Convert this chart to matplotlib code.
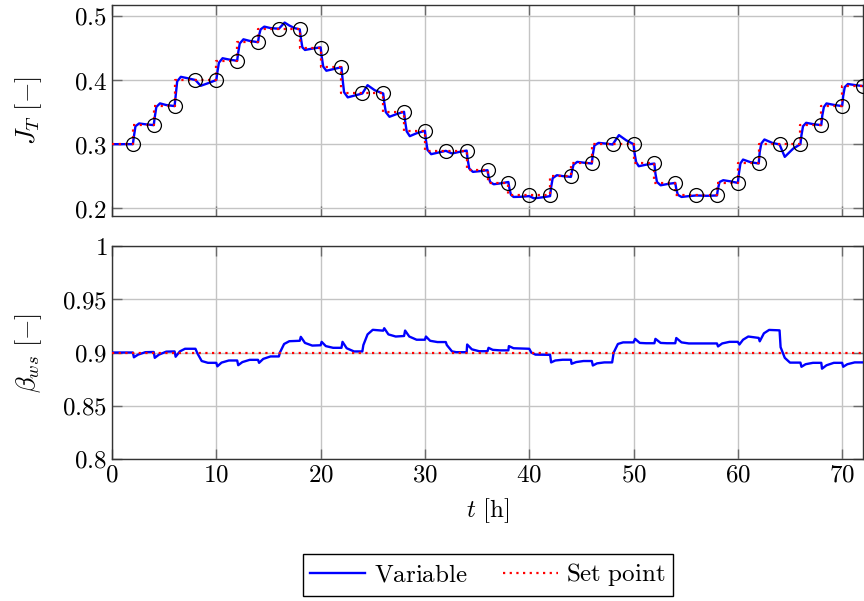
import numpy as np
import matplotlib
matplotlib.use("Agg")
import matplotlib.pyplot as plt
from matplotlib.ticker import FuncFormatter

plt.rcParams["mathtext.fontset"] = "cm"
plt.rcParams["font.family"] = "serif"

# set point of J_T, held constant over each 2 h interval
t_sp = np.arange(0, 74, 2)
jt_sp = [0.30, 0.33, 0.36, 0.40, 0.40, 0.43, 0.46, 0.48, 0.48, 0.45, 0.42, 0.38,
         0.38, 0.35, 0.32, 0.29, 0.29, 0.26, 0.24, 0.22, 0.22, 0.25, 0.27, 0.30,
         0.30, 0.27, 0.24, 0.22, 0.22, 0.24, 0.27, 0.30, 0.30, 0.33, 0.36, 0.39]

# measured J_T
t_jt = [0, 1.0,
        2, 2.1, 2.25, 2.6, 3.2,
        4, 4.1, 4.25, 4.6, 5.2,
        6, 6.1, 6.25, 6.6, 7.2,
        8, 8.5, 9.2,
        10, 10.1, 10.25, 10.6, 11.2,
        12, 12.1, 12.25, 12.6, 13.2,
        14, 14.1, 14.25, 14.6, 15.2,
        16, 16.55, 17.0, 17.5,
        18, 18.1, 18.25, 18.5, 19.2,
        20, 20.1, 20.25, 20.55, 21.2,
        22, 22.1, 22.25, 22.6, 23.3,
        24, 24.5, 25.2,
        26, 26.1, 26.25, 26.6, 27.3,
        28, 28.1, 28.25, 28.55, 29.2,
        30, 30.1, 30.25, 30.6, 31.3,
        32, 32.6, 33.3,
        34, 34.1, 34.25, 34.6, 35.3,
        36, 36.1, 36.25, 36.6, 37.3,
        38, 38.1, 38.25, 38.5, 39.2,
        40, 40.45, 41.2,
        42, 42.1, 42.25, 42.65, 43.3,
        44, 44.1, 44.25, 44.6, 45.3,
        46, 46.1, 46.25, 46.65, 47.3,
        48, 48.6, 49.3,
        50, 50.1, 50.25, 50.5, 51.2,
        52, 52.1, 52.25, 52.6, 53.3,
        54, 54.1, 54.25, 54.6, 55.3,
        56, 57.0,
        58, 58.1, 58.25, 58.6, 59.3,
        60, 60.1, 60.25, 60.5, 61.2,
        62, 62.1, 62.25, 62.55, 63.3,
        64, 64.5, 65.3,
        66, 66.1, 66.25, 66.55, 67.3,
        68, 68.1, 68.25, 68.5, 69.3,
        70, 70.1, 70.25, 70.55, 71.3,
        72]
jt = [0.300, 0.300,
      0.300, 0.312, 0.328, 0.3323, 0.331,
      0.3297, 0.342, 0.358, 0.3636, 0.361,
      0.3594, 0.375, 0.398, 0.405, 0.403,
      0.400, 0.391, 0.395,
      0.400, 0.412, 0.427, 0.434, 0.432,
      0.430, 0.443, 0.457, 0.4635, 0.461,
      0.459, 0.470, 0.479, 0.4833, 0.481,
      0.480, 0.4896, 0.485, 0.481,
      0.479, 0.466, 0.451, 0.4469, 0.449,
      0.451, 0.437, 0.421, 0.4145, 0.417,
      0.420, 0.402, 0.381, 0.373, 0.376,
      0.379, 0.392, 0.384,
      0.379, 0.365, 0.350, 0.3427, 0.347,
      0.3505, 0.336, 0.320, 0.3125, 0.317,
      0.3208, 0.306, 0.291, 0.2844, 0.287,
      0.2896, 0.2855, 0.288,
      0.290, 0.276, 0.262, 0.2568, 0.258,
      0.2594, 0.250, 0.241, 0.2375, 0.239,
      0.241, 0.231, 0.221, 0.2177, 0.218,
      0.219, 0.2156, 0.217,
      0.219, 0.233, 0.247, 0.2516, 0.250,
      0.249, 0.258, 0.268, 0.2724, 0.271,
      0.2698, 0.284, 0.298, 0.302, 0.301,
      0.2995, 0.3141, 0.306,
      0.300, 0.286, 0.272, 0.2656, 0.268,
      0.2698, 0.254, 0.241, 0.2359, 0.238,
      0.2396, 0.230, 0.221, 0.2177, 0.219,
      0.220, 0.2195,
      0.220, 0.231, 0.241, 0.2438, 0.242,
      0.2396, 0.254, 0.270, 0.276, 0.272,
      0.2698, 0.288, 0.301, 0.3073, 0.302,
      0.2995, 0.2802, 0.293,
      0.300, 0.314, 0.328, 0.3333, 0.331,
      0.3297, 0.345, 0.358, 0.3635, 0.361,
      0.3594, 0.375, 0.389, 0.3938, 0.392,
      0.3906]

# beta_ws and its set point
beta_sp = 0.9
t_beta = [0, 2.0, 2.1, 2.5, 3.2,
          4.0, 4.1, 4.5, 5.2,
          6.0, 6.1, 6.5, 7.0,
          8.0, 8.2, 8.6, 9.2,
          10.0, 10.1, 10.5, 11.2,
          12.0, 12.1, 12.5, 13.2,
          14.0, 14.1, 14.5, 15.2,
          16.0, 16.1, 16.5, 17.0,
          18.0, 18.1, 18.5, 19.2,
          20.0, 20.1, 20.5, 21.2,
          22.0, 22.1, 22.5, 23.2,
          24.0, 24.1, 24.5, 25.0,
          26.0, 26.1, 26.5, 27.2,
          28.0, 28.1, 28.5, 29.2,
          30.0, 30.1, 30.5, 31.2,
          32.0, 32.1, 32.6, 33.0,
          34.0, 34.05, 34.5, 35.2,
          36.0, 36.1, 36.5, 37.2,
          38.0, 38.05, 38.5,
          40.0, 40.2, 40.6,
          42.0, 42.1, 42.5, 43.2,
          44.0, 44.06, 44.5, 45.2,
          46.0, 46.1, 46.5, 47.2,
          47.95, 48.1, 48.5, 49.0,
          50.0, 50.15, 50.6, 51.2,
          52.0, 52.1, 52.6, 53.2,
          54.0, 54.1, 54.6, 55.3,
          58.0, 58.1, 58.5, 59.2,
          60.0, 60.15, 60.5, 61.0,
          62.0, 62.1, 62.5, 63.0,
          64.0, 64.1, 64.5, 65.0,
          66.0, 66.1, 66.5, 67.2,
          68.0, 68.07, 68.5, 69.2,
          70.0, 70.1, 70.5, 71.2,
          72.0]
beta = [0.900, 0.900, 0.8955, 0.898, 0.9003,
        0.9005, 0.895, 0.898, 0.9008,
        0.901, 0.896, 0.901, 0.9035,
        0.9035, 0.899, 0.892, 0.8903,
        0.8903, 0.887, 0.8905, 0.8925,
        0.8925, 0.8881, 0.891, 0.8931,
        0.8931, 0.8903, 0.894, 0.8963,
        0.8963, 0.900, 0.908, 0.9106,
        0.911, 0.9147, 0.909, 0.9065,
        0.9068, 0.910, 0.906, 0.9044,
        0.9044, 0.910, 0.904, 0.901,
        0.901, 0.907, 0.917, 0.9213,
        0.9205, 0.9228, 0.917, 0.915,
        0.9155, 0.9206, 0.915, 0.912,
        0.912, 0.915, 0.911, 0.9098,
        0.9098, 0.907, 0.901, 0.9003,
        0.9003, 0.9075, 0.903, 0.9012,
        0.9012, 0.9044, 0.9025, 0.902,
        0.902, 0.906, 0.904,
        0.9035, 0.900, 0.898,
        0.8978, 0.8907, 0.8925, 0.8932,
        0.8932, 0.8894, 0.891, 0.892,
        0.892, 0.8878, 0.8898, 0.8907,
        0.8907, 0.900, 0.908, 0.9095,
        0.9095, 0.9128, 0.909, 0.9087,
        0.9087, 0.9128, 0.909, 0.9087,
        0.9087, 0.9136, 0.9095, 0.9085,
        0.9085, 0.9057, 0.9085, 0.9100,
        0.9100, 0.9075, 0.912, 0.9150,
        0.9137, 0.9105, 0.918, 0.9212,
        0.9208, 0.905, 0.895, 0.8905,
        0.8905, 0.8866, 0.889, 0.8903,
        0.8903, 0.8848, 0.888, 0.8903,
        0.8903, 0.8866, 0.889, 0.8907,
        0.8907]

fs = 18
fig = plt.figure(figsize=(8.64, 6.01), dpi=100)
ax1 = fig.add_axes([112 / 864, 1 - 216 / 601, 751 / 864, 211 / 601])
ax2 = fig.add_axes([112 / 864, 1 - 459 / 601, 751 / 864, 213 / 601])

fmt = FuncFormatter(lambda v, p: "$%g$" % v)

for ax in (ax1, ax2):
    ax.set_xlim(0, 72)
    ax.set_xticks(range(0, 80, 10))
    ax.grid(True, color="#c4c4c4", linewidth=1.0)
    ax.set_axisbelow(True)
    ax.tick_params(direction="in", length=7.5, width=1.0, color="#6a6a6a",
                   top=True, right=True, labelsize=fs)
    ax.yaxis.set_major_formatter(fmt)
    ax.xaxis.set_major_formatter(fmt)
    for s in ax.spines.values():
        s.set_color("#333333")
        s.set_linewidth(1.0)

# top: J_T
ax1.plot(t_jt, jt, color="blue", lw=1.7, zorder=3)
ax1.step(t_sp, jt_sp + [jt_sp[-1]], where="post", color="red",
         lw=1.6, linestyle=(0, (1, 2)), zorder=4)
ax1.plot(t_sp[1:], jt_sp, "o", mfc="none", mec="black", ms=10, mew=0.9, zorder=5)
ax1.set_ylim(0.188, 0.517)
ax1.set_yticks([0.2, 0.3, 0.4, 0.5])
ax1.tick_params(labelbottom=False)
ax1.set_ylabel(r"$J_T\ [-]$", fontsize=fs + 1)
ax1.yaxis.set_label_coords(-0.09, 0.5)

# bottom: beta_ws
l1, = ax2.plot(t_beta, beta, color="blue", lw=1.7, zorder=3)
l2, = ax2.plot([0, 72], [beta_sp, beta_sp], color="red", lw=1.6,
               linestyle=(0, (1, 2)), zorder=4)
ax2.set_ylim(0.8, 1.0)
ax2.set_yticks([0.8, 0.85, 0.9, 0.95, 1.0])
ax2.set_ylabel(r"$\beta_{ws}\ [-]$", fontsize=fs + 1)
ax2.yaxis.set_label_coords(-0.09, 0.5)
ax2.set_xlabel(r"$t\ [\mathrm{h}]$", fontsize=fs, labelpad=7)

leg = fig.legend([l1, l2], [r"$\mathrm{Variable}$", r"$\mathrm{Set\ point}$"],
                 loc="center", bbox_to_anchor=(488 / 864, 1 - 575 / 601),
                 ncol=2, fontsize=fs, fancybox=False, edgecolor="black",
                 framealpha=1, handlelength=2.2, columnspacing=1.4,
                 borderpad=0.3, handletextpad=0.35)
leg.get_frame().set_linewidth(1.0)

fig.savefig("out.png", dpi=100)
